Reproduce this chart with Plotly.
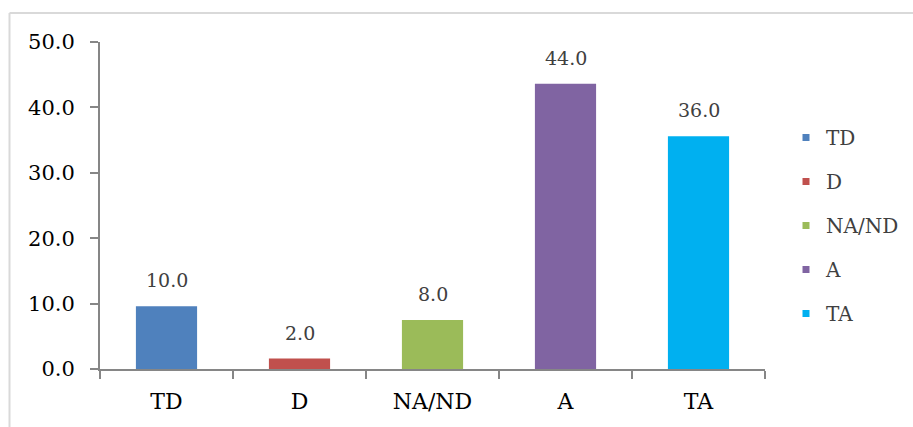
import plotly.graph_objects as go

categories = ["TD", "D", "NA/ND", "A", "TA"]
values = [9.6, 1.6, 7.5, 43.6, 35.6]
value_labels = ["10.0", "2.0", "8.0", "44.0", "36.0"]
colors = ["#4F81BD", "#C0504D", "#9BBB59", "#8064A2", "#00B0F0"]
y_ticks = [0, 10, 20, 30, 40, 50]
y_tick_labels = ["0.0", "10.0", "20.0", "30.0", "40.0", "50.0"]

FONT = "DejaVu Serif"

fig = go.Figure()
for cat, val, col in zip(categories, values, colors):
    fig.add_trace(go.Bar(x=[cat], y=[val], marker=dict(color=col, line=dict(width=0)),
                         width=0.46, showlegend=False, hoverinfo="skip"))
for cat, col in zip(categories, colors):
    fig.add_trace(go.Scatter(x=[None], y=[None], mode="markers", name=cat,
                             marker=dict(symbol="square", size=7, color=col),
                             legendgroup=cat))

for cat, val, lab in zip(categories, values, value_labels):
    fig.add_annotation(x=cat, y=val, text=lab, showarrow=False, yanchor="bottom",
                       yshift=13, font=dict(family=FONT, size=19, color="#404040"))

W, H = 913, 427
L, R, T, B = 100, 148, 42, 58
pw, ph = W - L - R, H - T - B

def px(x):
    return (x - L) / pw

def py(y):
    return (H - B - y) / ph

fig.add_shape(type="line", xref="paper", yref="paper", x0=px(9.5), x1=px(913), y0=py(13), y1=py(13),
              line=dict(color="#d9d9d9", width=2))
fig.add_shape(type="line", xref="paper", yref="paper", x0=px(9.5), x1=px(9.5), y0=py(13), y1=py(427),
              line=dict(color="#d9d9d9", width=2))

fig.update_layout(
    width=W, height=H,
    margin=dict(l=L, r=R, t=T, b=B, pad=0, autoexpand=False),
    paper_bgcolor="white", plot_bgcolor="white",
    barmode="overlay",
    font=dict(family=FONT, size=19, color="#000000"),
    xaxis=dict(showline=True, linecolor="#868686", linewidth=2, ticks="outside", ticklen=8,
               tickcolor="#868686", tickwidth=2, tickson="boundaries",
               tickfont=dict(family=FONT, size=22, color="#000000"), showgrid=False,
               categoryorder="array", categoryarray=categories, ticklabelstandoff=12,
               automargin=False),
    yaxis=dict(range=[0, 50], tickvals=y_ticks, ticktext=y_tick_labels, showline=True,
               linecolor="#868686", linewidth=2, ticks="outside", ticklen=8,
               tickcolor="#868686", tickwidth=2, showgrid=False, zeroline=False,
               tickfont=dict(family=FONT, size=21, color="#000000"), ticklabelstandoff=11,
               automargin=False),
    legend=dict(x=px(786), y=py(118), xanchor="left", yanchor="top",
                font=dict(family=FONT, size=20, color="#404040"),
                tracegroupgap=15, itemwidth=30, bgcolor="rgba(0,0,0,0)"),
)

fig.write_html("out.html", config={"displayModeBar": False},
               post_script="document.body.style.margin='0';document.body.style.padding='0';")
